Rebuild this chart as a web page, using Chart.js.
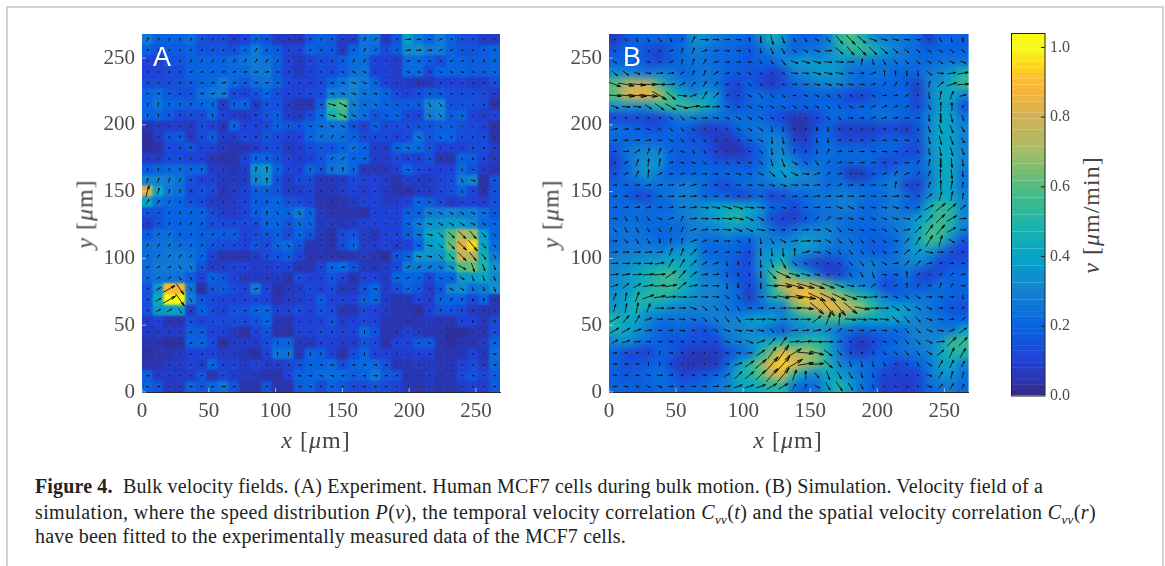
<!DOCTYPE html>
<html>
<head>
<meta charset="utf-8">
<title>Bulk velocity fields</title>
<script src="https://cdn.jsdelivr.net/npm/chart.js"></script>
<style>
  html, body { margin: 0; padding: 0; background: #fff; overflow: hidden; }
  #page { position: relative; width: 1165px; height: 566px; overflow: hidden; }
  #frame { position: absolute; left: 6px; top: 6px; width: 1154px; height: 600px; border: 2px solid #d2d2d2; }
  canvas { position: absolute; }
  .axis-label { position: absolute; font: 24px "Liberation Serif", serif; letter-spacing: 1px; color: #444; white-space: nowrap; transform: translate(-50%, -50%); }
  .axis-label.rot { transform: translate(-50%, -50%) rotate(-90deg); }
  .panel-tag { position: absolute; font: 27px "Liberation Sans", sans-serif; color: #fff; }
  .caption { position: absolute; left: 35px; font: 20px/22px "Liberation Serif", serif; color: #222; white-space: nowrap; }
  .caption sub { font-size: 13px; line-height: 0; }
</style>
</head>
<body>
<div id="page">
  <div id="frame"></div>
  <canvas id="chartA" width="420" height="410" style="left:90px;top:20px"></canvas>
  <canvas id="chartB" width="420" height="410" style="left:557px;top:20px"></canvas>
  <canvas id="chartBar" width="70" height="380" style="left:1005px;top:25px"></canvas>
  <div class="panel-tag" style="left:153px;top:42px">A</div>
  <div class="panel-tag" style="left:623px;top:42px">B</div>
  <div class="axis-label" style="left:316px;top:440px"><i>x</i> [<i>μ</i>m]</div>
  <div class="axis-label" style="left:788px;top:440px"><i>x</i> [<i>μ</i>m]</div>
  <div class="axis-label rot" style="left:85px;top:214px"><i>y</i> [<i>μ</i>m]</div>
  <div class="axis-label rot" style="left:551px;top:214px"><i>y</i> [<i>μ</i>m]</div>
  <div class="axis-label rot" style="left:1091px;top:215px"><i>v</i> [<i>μ</i>m/min]</div>
  <div class="caption" data-right="1043" style="top:475px"><b>Figure 4.</b>&nbsp; Bulk velocity fields. (A) Experiment. Human MCF7 cells during bulk motion. (B) Simulation. Velocity field of a</div>
  <div class="caption" data-right="1096" style="top:501px">simulation, where the speed distribution <i>P</i>(<i>v</i>), the temporal velocity correlation <i>C<sub>vv</sub></i>(<i>t</i>) and the spatial velocity correlation <i>C<sub>vv</sub></i>(<i>r</i>)</div>
  <div class="caption" data-right="626" style="top:525px">have been fitted to the experimentally measured data of the MCF7 cells.</div>
</div>

<script>
// Axis ticks
const xyTicks = [0, 50, 100, 150, 200, 250];
const barTicks = [0, 0.2, 0.4, 0.6, 0.8, 1.0];
const fieldSize = 268;
const barMax = 1.04;

// Colour scale
const mapValues = [0, 0.1, 0.2, 0.3, 0.4, 0.5, 0.6, 0.7, 0.8, 0.9, 1.0];
const mapColors = [[53,42,135],[32,66,214],[8,100,224],[20,130,208],[5,165,200],[32,181,165],[85,187,128],[165,189,101],[210,176,85],[255,184,48],[248,250,16]];

// Panel A speed, one row per cell row, top to bottom
const speedA = [
  [.27,.2,.2,.2,.23,.15,.13,.13,.08,.1,.18,.15,.07,.06,.06,.15,.2,.17,.08,.08,.25,.25,.07,.15,.38,.27,.2,.28,.2,.13,.13,.08,.07],
  [.2,.15,.17,.17,.2,.15,.15,.15,.13,.2,.27,.2,.17,.1,.1,.2,.17,.17,.07,.2,.25,.22,.13,.18,.33,.33,.27,.28,.2,.15,.15,.17,.2],
  [.1,.1,.15,.15,.2,.2,.2,.2,.22,.25,.27,.25,.2,.1,.07,.1,.13,.13,.18,.23,.23,.1,.1,.08,.22,.22,.18,.12,.2,.2,.18,.18,.2],
  [.1,.1,.13,.13,.2,.2,.2,.2,.22,.22,.27,.27,.18,.1,.07,.1,.13,.13,.17,.23,.25,.1,.1,.08,.22,.22,.12,.2,.2,.2,.18,.18,.2],
  [.13,.13,.13,.15,.17,.2,.22,.27,.22,.17,.23,.25,.2,.12,.1,.1,.13,.2,.25,.3,.27,.2,.1,.08,.08,.06,.06,.1,.1,.1,.08,.08,.13],
  [.2,.23,.17,.15,.15,.23,.26,.27,.12,.1,.15,.2,.13,.1,.1,.12,.13,.28,.28,.3,.25,.23,.2,.13,.1,.13,.18,.17,.14,.13,.13,.12,.08],
  [.2,.25,.2,.2,.18,.2,.22,.07,.18,.2,.08,.15,.15,.08,.05,.05,.18,.52,.58,.28,.23,.23,.2,.18,.18,.18,.3,.32,.15,.15,.15,.13,.04],
  [.2,.2,.17,.12,.13,.12,.2,.1,.08,.07,.1,.15,.18,.08,.07,.12,.22,.47,.55,.27,.23,.15,.18,.2,.12,.1,.28,.3,.18,.2,.1,.08,.1],
  [.06,.08,.08,.08,.07,.13,.1,.06,.2,.1,.1,.12,.18,.15,.15,.2,.23,.25,.25,.15,.1,.18,.12,.12,.13,.15,.15,.18,.18,.15,.12,.1,.04],
  [.03,.08,.15,.17,.07,.12,.17,.08,.08,.12,.1,.15,.12,.1,.1,.2,.25,.25,.23,.2,.12,.12,.12,.1,.13,.25,.15,.2,.2,.13,.13,.12,.04],
  [.03,.04,.12,.13,.15,.1,.1,.07,.05,.06,.08,.13,.12,.07,.09,.13,.16,.15,.2,.23,.2,.08,.08,.2,.22,.22,.15,.1,.1,.1,.13,.13,.08],
  [.08,.08,.13,.13,.1,.1,.06,.04,.05,.1,.2,.2,.15,.1,.08,.1,.15,.23,.25,.2,.2,.08,.08,.12,.1,.09,.15,.05,.05,.2,.18,.1,.07],
  [.18,.2,.22,.22,.2,.2,.08,.07,.06,.08,.33,.36,.2,.1,.1,.2,.15,.25,.27,.2,.06,.06,.06,.09,.2,.12,.1,.1,.1,.22,.15,.08,.05],
  [.3,.3,.28,.25,.15,.1,.1,.07,.07,.08,.3,.34,.15,.08,.12,.12,.06,.06,.08,.12,.1,.1,.08,.05,.09,.08,.08,.1,.13,.27,.3,.03,.15],
  [.8,.42,.27,.25,.12,.15,.12,.05,.07,.1,.18,.18,.15,.08,.08,.1,.06,.06,.08,.1,.08,.1,.07,.04,.04,.07,.07,.1,.13,.2,.1,.04,.15],
  [.4,.25,.22,.2,.15,.12,.08,.07,.08,.1,.18,.18,.2,.15,.13,.1,.05,.04,.05,.07,.1,.1,.08,.08,.1,.2,.18,.12,.08,.1,.1,.09,.14],
  [.15,.15,.2,.2,.2,.2,.13,.08,.08,.1,.18,.22,.2,.2,.27,.2,.07,.05,.05,.05,.04,.1,.1,.1,.18,.2,.28,.28,.3,.28,.28,.23,.15],
  [.08,.15,.2,.2,.2,.18,.13,.12,.12,.12,.12,.2,.2,.15,.22,.2,.07,.07,.06,.07,.1,.1,.1,.1,.2,.27,.35,.35,.37,.37,.32,.22,.2],
  [.18,.23,.23,.2,.2,.18,.18,.18,.18,.1,.12,.15,.18,.12,.2,.15,.07,.04,.12,.15,.08,.06,.1,.1,.17,.25,.4,.42,.6,.72,.68,.38,.2],
  [.23,.25,.25,.23,.22,.2,.15,.13,.12,.1,.15,.12,.2,.22,.15,.05,.06,.04,.13,.2,.08,.08,.1,.08,.1,.2,.37,.4,.62,.82,.95,.4,.23],
  [.23,.25,.27,.27,.25,.2,.1,.05,.05,.05,.08,.12,.15,.18,.1,.05,.05,.05,.05,.05,.07,.05,.03,.15,.2,.35,.35,.35,.5,.78,.72,.46,.27],
  [.23,.27,.27,.27,.27,.15,.08,.08,.1,.1,.08,.08,.1,.1,.05,.05,.1,.2,.22,.15,.07,.06,.08,.12,.27,.27,.27,.27,.35,.6,.62,.48,.35],
  [.22,.25,.25,.25,.18,.1,.2,.15,.1,.07,.08,.07,.08,.05,.13,.1,.1,.15,.1,.04,.1,.1,.08,.2,.2,.2,.1,.2,.2,.35,.37,.4,.32],
  [.15,.36,.9,.88,.26,.04,.15,.17,.13,.1,.27,.1,.04,.06,.08,.12,.1,.12,.06,.07,.15,.2,.08,.12,.2,.15,.08,.16,.3,.32,.25,.27,.35],
  [.15,.43,1.0,1.03,.28,.15,.13,.1,.1,.1,.12,.1,.05,.08,.08,.1,.18,.1,.1,.1,.17,.2,.08,.05,.06,.1,.08,.2,.2,.2,.12,.2,.05],
  [.15,.36,.38,.38,.08,.2,.12,.1,.15,.15,.2,.2,.1,.1,.13,.1,.15,.12,.05,.05,.12,.1,.08,.05,.05,.03,.1,.15,.15,.12,.07,.06,.06],
  [.08,.1,.05,.05,.15,.1,.12,.12,.13,.12,.15,.2,.06,.05,.1,.1,.1,.15,.08,.1,.12,.1,.05,.05,.05,.05,.07,.05,.05,.1,.1,.06,.12],
  [.08,.08,.08,.08,.18,.18,.1,.1,.07,.03,.1,.15,.05,.04,.1,.1,.12,.12,.1,.1,.22,.15,.05,.06,.1,.07,.05,.05,.03,.03,.05,.05,.13],
  [.05,.05,.03,.03,.2,.2,.12,.03,.08,.08,.08,.12,.2,.2,.07,.06,.1,.1,.08,.08,.15,.12,.04,.1,.1,.17,.17,.05,.03,.05,.05,.07,.2],
  [.03,.05,.05,.07,.1,.1,.1,.07,.08,.06,.03,.1,.25,.25,.06,.2,.18,.1,.04,.13,.2,.1,.1,.08,.09,.1,.1,.05,.05,.06,.1,.06,.23],
  [.05,.05,.08,.08,.1,.08,.2,.1,.1,.07,.1,.08,.08,.1,.15,.2,.2,.22,.13,.2,.22,.22,.15,.06,.06,.07,.07,.06,.06,.1,.13,.07,.22],
  [.18,.08,.08,.08,.08,.15,.05,.12,.08,.07,.07,.05,.04,.1,.2,.2,.22,.23,.22,.18,.2,.27,.17,.15,.06,.06,.08,.05,.06,.12,.16,.1,.17],
  [.2,.15,.07,.07,.2,.15,.2,.25,.15,.05,.05,.15,.05,.05,.18,.2,.12,.2,.15,.12,.13,.15,.13,.1,.06,.05,.07,.05,.05,.08,.1,.08,.18]
];

// Panel A arrow heading in degrees, read per block of 3x3 cells
const headingA = [
  [60,60,60,60,60,60,60,45,5,30,60],
  [5,10,10,10,5,-10,-20,-20,-15,-15,-20],
  [80,70,80,85,90,-15,-25,-30,-50,-45,-45],
  [85,85,85,85,85,50,30,-10,-30,-60,-80],
  [75,70,60,85,80,85,85,-30,-10,-60,-10],
  [60,60,70,85,-60,-60,90,-30,-15,-30,-20],
  [50,55,50,60,-50,-60,90,90,-10,-45,-50],
  [30,-55,-55,20,70,-60,0,0,30,-30,-70],
  [30,-55,-45,10,0,-60,90,0,20,70,-85],
  [0,20,30,0,90,85,85,60,0,0,0],
  [0,0,0,0,-5,-10,-5,0,0,0,0]
];

// Panel B speed, one row per arrow row, top to bottom
const speedB = [
  [.07,.15,.2,.2,.22,.2,.18,.33,.35,.28,.25,.22,.2,.3,.45,.35,.2,.2,.2,.28,.5,.6,.5,.33,.28,.28,.25,.22,.07,.2,.2,.18],
  [.15,.2,.2,.13,.08,.18,.22,.28,.25,.22,.2,.2,.15,.22,.3,.28,.2,.25,.25,.3,.45,.5,.55,.5,.4,.3,.25,.22,.2,.2,.2,.2],
  [.2,.2,.2,.15,.12,.18,.22,.25,.25,.22,.2,.2,.15,.2,.2,.3,.35,.38,.35,.35,.35,.3,.28,.25,.25,.25,.25,.22,.2,.25,.25,.25],
  [.33,.3,.28,.25,.3,.28,.2,.22,.25,.25,.2,.17,.15,.15,.08,.13,.3,.3,.38,.38,.35,.25,.2,.25,.25,.2,.2,.22,.28,.3,.38,.5],
  [.6,.72,.78,.78,.55,.35,.28,.25,.27,.25,.15,.1,.2,.1,.07,.12,.2,.25,.28,.3,.3,.25,.22,.2,.2,.2,.18,.08,.3,.35,.45,.55],
  [.6,.8,.85,.85,.75,.55,.42,.3,.4,.35,.15,.08,.2,.25,.2,.2,.15,.18,.2,.18,.15,.1,.08,.15,.2,.2,.2,.08,.28,.42,.4,.3],
  [.35,.35,.35,.35,.5,.55,.55,.55,.45,.35,.2,.15,.2,.2,.2,.2,.2,.2,.2,.22,.2,.18,.2,.22,.22,.2,.2,.1,.25,.4,.35,.15],
  [.1,.1,.12,.1,.1,.2,.28,.28,.25,.25,.22,.25,.22,.22,.15,.1,.05,.05,.1,.2,.22,.2,.2,.22,.25,.22,.2,.2,.3,.42,.4,.25],
  [.25,.22,.2,.15,.15,.2,.2,.15,.05,.08,.12,.2,.25,.25,.25,.2,.04,.05,.15,.2,.08,.07,.07,.07,.1,.1,.05,.15,.3,.42,.38,.3],
  [.2,.2,.22,.22,.2,.2,.18,.15,.15,.08,.05,.1,.2,.25,.3,.3,.12,.08,.2,.22,.15,.12,.12,.15,.18,.2,.2,.15,.32,.42,.4,.28],
  [.15,.25,.3,.3,.3,.2,.2,.18,.15,.1,.04,.04,.1,.2,.3,.3,.18,.12,.2,.25,.22,.22,.22,.2,.22,.2,.1,.1,.3,.42,.4,.3],
  [.08,.2,.3,.35,.35,.2,.15,.18,.2,.15,.15,.15,.15,.2,.3,.38,.3,.2,.25,.22,.2,.2,.22,.2,.1,.12,.2,.2,.3,.42,.42,.3],
  [.15,.22,.3,.38,.25,.2,.2,.2,.22,.2,.22,.22,.2,.25,.35,.4,.35,.3,.28,.22,.2,.05,.05,.15,.2,.25,.25,.18,.25,.42,.42,.25],
  [.2,.2,.2,.25,.25,.25,.28,.28,.22,.15,.12,.2,.25,.25,.25,.3,.3,.28,.28,.2,.25,.22,.2,.22,.25,.3,.1,.08,.28,.42,.4,.25],
  [.2,.2,.1,.12,.22,.25,.28,.28,.2,.2,.18,.1,.12,.2,.1,.12,.2,.2,.25,.25,.28,.28,.25,.22,.22,.28,.22,.15,.3,.42,.42,.28],
  [.22,.22,.25,.22,.22,.22,.3,.3,.35,.4,.42,.45,.42,.35,.22,.2,.1,.22,.25,.25,.28,.28,.22,.2,.25,.28,.2,.2,.45,.55,.5,.3],
  [.2,.22,.22,.22,.22,.25,.25,.3,.33,.38,.45,.5,.38,.3,.12,.08,.08,.15,.2,.25,.25,.22,.22,.22,.25,.28,.3,.38,.45,.55,.5,.3],
  [.25,.25,.25,.22,.2,.22,.22,.28,.28,.3,.35,.35,.35,.35,.25,.15,.25,.28,.3,.32,.25,.22,.2,.2,.22,.25,.3,.4,.55,.58,.45,.28],
  [.22,.25,.25,.25,.2,.22,.25,.3,.22,.22,.25,.2,.2,.28,.28,.3,.3,.42,.35,.3,.25,.25,.2,.18,.18,.22,.3,.42,.58,.5,.3,.15],
  [.25,.28,.28,.3,.28,.35,.35,.38,.22,.2,.2,.2,.1,.33,.35,.38,.35,.35,.3,.25,.22,.25,.22,.18,.18,.22,.32,.38,.35,.25,.12,.1],
  [.3,.32,.35,.38,.42,.42,.42,.38,.25,.25,.22,.15,.12,.35,.4,.5,.25,.15,.08,.08,.12,.22,.28,.28,.25,.25,.3,.3,.25,.1,.15,.15],
  [.32,.35,.42,.48,.52,.58,.45,.38,.28,.28,.2,.15,.12,.3,.55,.72,.5,.42,.25,.1,.08,.2,.25,.28,.2,.2,.25,.15,.08,.15,.2,.2],
  [.32,.35,.4,.45,.52,.55,.48,.38,.3,.3,.25,.2,.1,.25,.5,.8,.85,.8,.72,.6,.45,.32,.3,.25,.12,.15,.2,.15,.18,.25,.2,.2],
  [.35,.38,.48,.52,.52,.48,.4,.35,.3,.3,.25,.22,.05,.25,.45,.55,.8,.92,.85,.78,.7,.6,.5,.4,.3,.2,.22,.25,.25,.22,.2,.18],
  [.35,.42,.48,.42,.38,.32,.3,.3,.3,.28,.25,.22,.2,.22,.28,.25,.6,.7,.8,.88,.85,.78,.68,.55,.38,.4,.38,.3,.25,.2,.15,.15],
  [.5,.42,.4,.3,.25,.25,.25,.25,.25,.3,.3,.3,.38,.42,.38,.3,.35,.45,.5,.55,.55,.5,.42,.42,.42,.42,.35,.3,.28,.25,.2,.2],
  [.45,.42,.35,.28,.2,.2,.22,.15,.12,.2,.3,.3,.32,.28,.22,.15,.3,.3,.35,.3,.25,.22,.2,.22,.22,.2,.25,.3,.3,.25,.25,.4],
  [.3,.35,.28,.22,.2,.15,.15,.15,.15,.1,.25,.28,.35,.38,.42,.5,.45,.52,.5,.45,.25,.12,.05,.1,.18,.2,.25,.3,.3,.35,.55,.55],
  [.2,.12,.1,.1,.18,.18,.1,.07,.05,.08,.12,.2,.25,.45,.65,.88,.72,.72,.65,.45,.28,.12,.08,.15,.2,.22,.25,.25,.3,.4,.5,.5],
  [.2,.15,.15,.18,.2,.12,.05,.05,.05,.05,.2,.35,.5,.65,.85,.95,.85,.7,.62,.5,.3,.25,.25,.22,.2,.1,.12,.2,.25,.38,.4,.3],
  [.2,.15,.18,.2,.25,.2,.1,.12,.15,.2,.25,.45,.5,.6,.78,.82,.5,.35,.3,.42,.38,.32,.25,.2,.1,.08,.1,.1,.25,.35,.35,.25],
  [.2,.2,.18,.2,.22,.22,.18,.2,.22,.25,.3,.38,.4,.45,.5,.5,.25,.2,.25,.38,.5,.38,.25,.2,.08,.1,.07,.1,.22,.25,.28,.22]
];

// Panel B arrow heading in degrees
const headingB = [
  [-10,-45,-80,-60,-45,-60,70,65,0,0,5,0,-80,-85,-75,-70,-60,-60,-30,-50,-50,-45,-40,-20,-15,-15,-5,-5,20,-60,-80,-90],
  [-30,-45,-60,-45,-30,20,70,70,20,10,0,0,-70,-75,-65,-60,-35,-30,-20,5,-40,-50,-45,-45,-40,-40,-40,-35,-30,-30,-35,-40],
  [-30,-40,-45,-10,0,20,80,75,60,10,0,5,-5,-60,-55,-50,-20,-15,-15,-5,-5,5,80,-75,-60,-50,-40,-40,-30,-35,-25,-20],
  [-40,-35,-20,-5,5,10,30,70,70,30,10,-30,-40,-35,-35,-30,-5,-5,-15,-10,-10,-5,5,20,85,-85,-85,-85,-40,-5,10,10],
  [-20,-10,-5,0,0,5,30,50,60,50,30,-30,-40,-40,-35,-30,0,0,-10,-15,-10,-5,0,20,50,60,70,85,80,40,20,5],
  [-5,-5,-5,-5,-30,-40,-5,20,60,45,30,0,-30,-50,-45,-40,-5,-20,-30,-40,-50,-30,-10,-20,5,10,30,60,-80,80,70,15],
  [-20,-5,-5,-30,-35,-30,-15,10,5,5,-10,-20,-30,-30,-30,-30,-30,-30,-30,-40,-60,-30,10,25,25,25,25,40,-60,85,85,60],
  [0,0,-10,-20,-30,-40,-45,-15,5,-10,-20,-30,-30,-30,-25,-30,-20,-30,-35,-40,-50,-10,5,20,15,10,10,5,-85,-85,-75,-70],
  [10,10,5,-20,-30,-45,-50,-45,-45,-40,-35,-30,-30,-35,-80,-80,-85,-85,-85,-85,5,0,0,0,5,0,-5,-70,-70,-70,-70,-60],
  [5,5,5,10,-5,-30,-45,-55,-40,-30,-20,-20,-10,-30,-85,-80,-80,-85,-85,-85,5,0,0,-5,-5,-5,-5,-70,-75,-75,-70,-60],
  [5,5,30,70,70,30,-20,-45,-50,-40,-20,-15,-5,-45,-80,-75,75,-85,-85,65,15,5,0,-5,-5,-5,-5,-70,-80,-80,-75,-70],
  [5,30,70,85,80,20,-5,-20,-40,-40,-30,-20,-10,-40,-75,-70,-30,-40,-60,45,15,5,5,5,-5,-5,5,60,80,-85,-85,-85],
  [5,20,60,85,30,10,15,15,5,-5,-10,-20,-15,-20,-40,-50,-25,-5,20,40,15,0,5,5,15,60,20,45,70,90,-85,-85],
  [5,5,5,10,10,10,15,15,10,0,-5,-10,-5,-10,-15,-20,-5,-5,10,20,25,5,10,10,10,80,80,45,70,85,80,80],
  [0,0,5,5,0,0,5,5,-5,-5,-5,-5,-5,-5,-10,-15,5,5,5,10,5,0,5,0,0,5,-5,20,40,75,80,80],
  [10,10,10,15,15,10,10,10,-5,-10,-15,-15,-5,-5,-10,-15,0,5,5,0,-20,-25,-20,-10,-10,-15,-15,20,30,40,40,40],
  [0,-60,-70,-50,-20,20,70,5,0,0,-5,-10,-25,-30,-40,-40,30,60,45,40,5,-15,-20,-25,-20,-15,-10,40,45,45,30,5],
  [-50,-60,-65,-60,-50,70,70,20,10,5,-5,-20,-25,-10,-10,-10,5,5,0,-30,-45,-15,-20,-20,-30,-40,10,45,55,50,30,0],
  [0,-40,-60,-60,-80,80,80,20,20,5,-5,-30,-80,-80,-50,-30,10,5,0,-30,-45,-45,-50,-40,-45,0,45,60,60,75,-30,-30],
  [5,5,5,5,10,70,70,45,30,20,10,-5,-85,-85,-85,-85,85,15,-5,-30,-50,-50,-50,-50,-30,5,40,45,-10,0,0,5],
  [0,0,0,0,10,60,60,45,30,20,-80,-85,-85,-85,-70,-60,-40,-30,-20,-10,-40,-45,-50,-60,-30,5,50,45,15,10,5,5],
  [5,10,5,5,5,35,50,40,10,5,-80,-85,-85,-85,-45,-25,-15,-15,-15,-15,-20,-50,-60,-70,-10,-5,85,45,45,40,40,10],
  [20,40,30,10,5,10,40,10,5,0,-85,-85,-85,-85,-5,-5,-15,-15,-20,-20,-20,-10,5,40,40,30,85,60,10,70,60,0],
  [70,80,70,20,10,5,0,5,0,-5,-40,-50,0,0,-5,-10,-5,-10,-25,-25,-25,-20,-5,5,5,-25,-30,-30,0,0,0,-85],
  [75,80,80,70,0,5,0,-20,-40,-50,-55,-60,5,5,5,5,0,-5,-40,-50,-50,-40,-10,0,0,-30,-40,-30,-20,-5,10,30],
  [30,50,60,20,0,-5,-5,-20,-45,-45,-50,-50,0,0,-5,0,0,0,40,70,85,-5,-5,-5,-5,-40,-50,-45,-20,-5,10,40],
  [30,30,20,10,0,0,-10,-5,-30,-30,-20,-10,-5,-10,-40,-80,5,5,10,30,40,0,0,5,-5,-40,-50,-45,-25,-5,25,35],
  [30,20,5,0,0,0,0,-5,-5,-20,-20,-10,-20,20,45,55,5,5,0,0,10,0,-5,-10,-20,-45,-50,-50,-25,5,45,45],
  [5,0,0,85,85,0,0,0,0,0,-5,-5,5,35,55,55,30,-5,-15,-35,-45,-70,-80,-70,-50,-40,-50,-50,-30,40,65,60],
  [-5,-5,-5,85,85,5,0,0,0,0,5,20,35,40,50,50,30,10,5,-40,-60,-70,-80,-80,-60,-50,-60,-70,-40,60,65,60],
  [-5,-5,-5,-10,-5,5,5,5,0,0,30,45,40,45,50,50,70,85,-50,-70,-60,-60,-70,-75,-30,-30,-30,-20,-20,60,75,75],
  [0,-5,-20,-30,-20,0,0,0,0,5,10,20,20,20,30,30,60,70,-30,-60,-55,-55,-60,-70,-30,-30,-30,-20,-20,45,60,70]
];

// Map a speed to its colour
function speedColor(v) {
  const t = Math.min(Math.max(v, 0), 1);
  let i = 0;
  while (i < mapValues.length - 2 && t > mapValues[i + 1]) i++;
  const f = (t - mapValues[i]) / (mapValues[i + 1] - mapValues[i]);
  const c = mapColors[i].map((a, k) => Math.round(a + (mapColors[i + 1][k] - a) * f));
  return `rgb(${c[0]},${c[1]},${c[2]})`;
}

// Heat cells as one point per grid cell
function buildCells(speed) {
  const n = speed.length;
  const w = fieldSize / n;
  const points = [];
  const colors = [];
  speed.forEach((row, r) => row.forEach((v, c) => {
    points.push({ x: (c + 0.5) * w, y: fieldSize - (r + 0.5) * w });
    colors.push(speedColor(v));
  }));
  return { points, colors, n };
}

// Arrow polyline with gaps between arrows, lengths in data units
function buildArrows(speed, headingAt, unitLength) {
  const n = speed.length;
  const w = fieldSize / n;
  const points = [];
  speed.forEach((row, r) => row.forEach((v, c) => {
    const a = headingAt(r, c) * Math.PI / 180;
    const len = v * unitLength;
    const cx = (c + 0.5) * w;
    const cy = fieldSize - (r + 0.5) * w;
    const tip = { x: cx + Math.cos(a) * len / 2, y: cy + Math.sin(a) * len / 2 };
    const barb = d => ({
      x: tip.x - Math.cos(a + d) * len * 0.3,
      y: tip.y - Math.sin(a + d) * len * 0.3
    });
    points.push({ x: cx - Math.cos(a) * len / 2, y: cy - Math.sin(a) * len / 2 }, tip, barb(0.25), tip, barb(-0.25));
    points.push({ x: null, y: null });
  }));
  return points;
}

// Inward ticks and the soft blur of the image
const fieldPlugin = {
  id: "fieldPlugin",
  afterDatasetDraw(chart, args, opts) {
    if (args.index !== 0) return;
    const { left, top, width, height } = chart.chartArea;
    const ctx = chart.ctx;
    ctx.save();
    // keep the blur inside the plot area
    ctx.beginPath();
    ctx.rect(left, top, width, height);
    ctx.clip();
    ctx.filter = `blur(${opts.blur}px)`;
    ctx.drawImage(chart.canvas, left, top, width, height, left, top, width, height);
    ctx.restore();
  },
  afterDatasetsDraw(chart) {
    const { left, bottom } = chart.chartArea;
    const ctx = chart.ctx;
    ctx.save();
    ctx.strokeStyle = "rgba(205,215,245,0.75)";
    ctx.lineWidth = 1;
    ctx.beginPath();
    xyTicks.forEach(t => {
      const px = chart.scales.x.getPixelForValue(t);
      const py = chart.scales.y.getPixelForValue(t);
      ctx.moveTo(px, bottom);
      ctx.lineTo(px, bottom - 4);
      ctx.moveTo(left, py);
      ctx.lineTo(left + 4, py);
    });
    ctx.stroke();
    ctx.restore();
  }
};

// Stop tick labels from adding padding around the plot area
function clearPadding(s) {
  s.paddingTop = 0;
  s.paddingBottom = 0;
  s.paddingLeft = 0;
  s.paddingRight = 0;
}

function fieldAxis(fit) {
  return {
    type: "linear",
    min: 0,
    max: fieldSize,
    afterFit: s => { fit(s); clearPadding(s); },
    border: { color: "#2a2a2a", width: 1 },
    grid: { drawOnChartArea: false, drawTicks: false },
    ticks: {
      includeBounds: false,
      stepSize: 50,
      padding: 7,
      color: "#4a4a4a",
      font: { family: "Liberation Serif", size: 21 },
      callback: v => (xyTicks.includes(v) ? String(v) : "")
    }
  };
}

function renderField(canvasId, speed, headingAt, unitLength, blur, rightPad) {
  const cells = buildCells(speed);
  new Chart(document.getElementById(canvasId), {
    type: "scatter",
    data: {
      datasets: [
        {
          data: cells.points,
          order: 2,
          pointStyle: "rect",
          backgroundColor: cells.colors,
          borderColor: cells.colors,
          borderWidth: 0.6,
          pointRadius: c => c.chart.scales.x.width / cells.n * Math.SQRT1_2
        },
        {
          data: buildArrows(speed, headingAt, unitLength),
          order: 1,
          showLine: true,
          borderColor: "#111",
          borderWidth: 0.9,
          pointRadius: 0,
          spanGaps: false
        }
      ]
    },
    options: {
      responsive: false,
      animation: false,
      events: [],
      layout: { padding: { top: 14, right: rightPad } },
      plugins: { legend: { display: false }, tooltip: { enabled: false }, fieldPlugin: { blur } },
      scales: {
        x: fieldAxis(s => { s.height = 38; }),
        y: fieldAxis(s => { s.width = 52; })
      }
    },
    plugins: [fieldPlugin]
  });
}

// Colour bar as a stack of equal bands
function renderColorBar() {
  const bands = 64;
  const step = barMax / bands;
  const datasets = [];
  for (let i = 0; i < bands; i++) {
    const color = speedColor((i + 0.5) * step);
    datasets.push({ data: [step], backgroundColor: color, borderColor: color, borderWidth: 0.5, stack: "bar" });
  }
  new Chart(document.getElementById("chartBar"), {
    type: "bar",
    data: { labels: ["v"], datasets },
    options: {
      responsive: false,
      animation: false,
      events: [],
      layout: { padding: { top: 8.5, left: 6.5, bottom: 9 } },
      datasets: { bar: { barPercentage: 1, categoryPercentage: 1 } },
      plugins: { legend: { display: false }, tooltip: { enabled: false } },
      scales: {
        x: { display: false, stacked: true },
        y: {
          position: "right",
          stacked: true,
          min: 0,
          max: barMax,
          afterFit: s => { s.width = 30; clearPadding(s); },
          border: { display: false },
          grid: { drawOnChartArea: false, drawTicks: false },
          ticks: {
            includeBounds: false,
            stepSize: 0.2,
            padding: 5,
            color: "#4a4a4a",
            font: { family: "Liberation Serif", size: 16 },
            callback: v => v.toFixed(1)
          }
        }
      }
    },
    plugins: [{
      id: "barFrame",
      afterDatasetsDraw(chart) {
        const { left, top, width, height, right } = chart.chartArea;
        const ctx = chart.ctx;
        ctx.save();
        ctx.strokeStyle = "#222";
        ctx.lineWidth = 1;
        ctx.strokeRect(left, top, width, height);
        ctx.beginPath();
        barTicks.slice(1).forEach(t => {
          const py = chart.scales.y.getPixelForValue(t);
          ctx.moveTo(right, py);
          ctx.lineTo(right - 4, py);
        });
        ctx.stroke();
        ctx.restore();
      }
    }]
  });
}

// Stretch each caption line to where it ends in the figure
function fitCaptions() {
  document.querySelectorAll(".caption").forEach(el => {
    const chars = el.textContent.length;
    const target = Number(el.dataset.right) - el.offsetLeft;
    el.style.letterSpacing = `${(target - el.getBoundingClientRect().width) / chars}px`;
  });
}

// Init
renderField("chartA", speedA, (r, c) => headingA[Math.floor(r / 3)][Math.floor(c / 3)], 11, 0.8, 10);
renderField("chartB", speedB, (r, c) => headingB[r][c], 16.5, 4, 8.5);
renderColorBar();
fitCaptions();
</script>
</body>
</html>
